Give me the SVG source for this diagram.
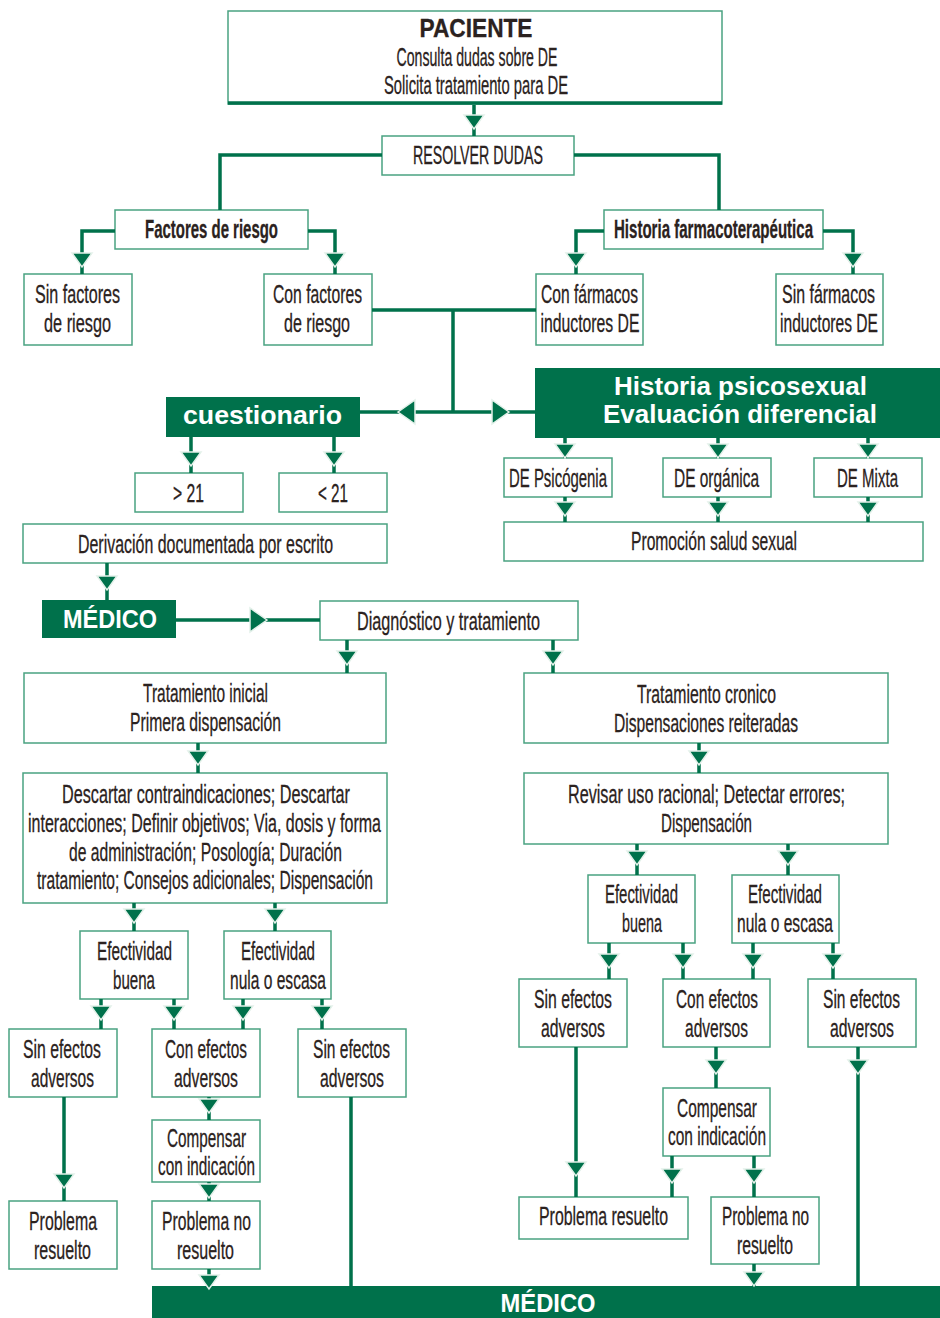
<svg xmlns="http://www.w3.org/2000/svg" xmlns:xlink="http://www.w3.org/1999/xlink" width="940" height="1318" viewBox="0 0 940 1318">
<style>
.box{fill:#fff;stroke:#4aa281;stroke-width:1.5}
.fill{fill:#00714b}
.t{font-family:"Liberation Sans",Arial,sans-serif;font-size:26px;fill:#2b2220;stroke:#2b2220;stroke-width:0.3;text-anchor:middle}
.b{font-weight:bold}
.w{fill:#fff;stroke:none;font-weight:bold}
.ln{stroke:#00714b;stroke-width:3.5;fill:none}
.ah{fill:#00714b;stroke:#e4f1ea;stroke-width:1.5;stroke-linejoin:miter}
</style>
<defs>
<path id="dn" class="ah" d="M-10,-14 H10 L0,0 Z"/>
<path id="lt" class="ah" d="M0,0 L17,-12 V12 Z"/>
<path id="rt" class="ah" d="M0,0 L-17,-12 V12 Z"/>
</defs>
<rect width="940" height="1318" fill="#fff"/>

<g id="paciente">
<rect class="box" x="228" y="11" width="494" height="93"/>
<line x1="228" y1="103" x2="722" y2="103" stroke="#00714b" stroke-width="3.5"/>
<text class="t b" x="476" y="37" font-size="22" textLength="113" lengthAdjust="spacingAndGlyphs">PACIENTE</text>
<text class="t" x="477" y="66" textLength="161" lengthAdjust="spacingAndGlyphs">Consulta dudas sobre DE</text>
<text class="t" x="476" y="94" textLength="184" lengthAdjust="spacingAndGlyphs">Solicita tratamiento para DE</text>
</g>
<g id="resolver">
<rect class="box" x="382" y="136" width="192" height="39"/>
<text class="t" x="478" y="164" textLength="130" lengthAdjust="spacingAndGlyphs">RESOLVER DUDAS</text>
</g>
<g id="factores">
<rect class="box" x="115" y="210" width="193" height="39"/>
<text class="t b" x="211.5" y="238" textLength="133" lengthAdjust="spacingAndGlyphs">Factores de riesgo</text>
</g>
<g id="hfarm">
<rect class="box" x="604" y="210" width="219" height="39"/>
<text class="t b" x="713.5" y="238" textLength="199" lengthAdjust="spacingAndGlyphs">Historia farmacoterapéutica</text>
</g>
<g id="sinfact">
<rect class="box" x="24" y="274" width="108" height="71"/>
<text class="t" x="77.5" y="303" textLength="85" lengthAdjust="spacingAndGlyphs">Sin factores</text>
<text class="t" x="77.5" y="332" textLength="67" lengthAdjust="spacingAndGlyphs">de riesgo</text>
</g>
<g id="confact">
<rect class="box" x="264" y="274" width="108" height="71"/>
<text class="t" x="317.5" y="303" textLength="89" lengthAdjust="spacingAndGlyphs">Con factores</text>
<text class="t" x="317" y="332" textLength="66" lengthAdjust="spacingAndGlyphs">de riesgo</text>
</g>
<g id="confarm">
<rect class="box" x="536" y="274" width="107" height="71"/>
<text class="t" x="589.5" y="303" textLength="97" lengthAdjust="spacingAndGlyphs">Con fármacos</text>
<text class="t" x="590" y="332" textLength="99" lengthAdjust="spacingAndGlyphs">inductores DE</text>
</g>
<g id="sinfarm">
<rect class="box" x="776" y="274" width="107" height="71"/>
<text class="t" x="828.5" y="303" textLength="93" lengthAdjust="spacingAndGlyphs">Sin fármacos</text>
<text class="t" x="829" y="332" textLength="98" lengthAdjust="spacingAndGlyphs">inductores DE</text>
</g>
<g id="cuestionario">
<rect class="fill" x="166" y="397" width="194" height="40"/>
<text class="t w" x="262.5" y="424" font-size="26" textLength="159" lengthAdjust="spacingAndGlyphs">cuestionario</text>
</g>
<g id="hpsico">
<rect class="fill" x="535" y="368" width="405" height="70"/>
<text class="t w" x="740.5" y="395" font-size="24" textLength="253" lengthAdjust="spacingAndGlyphs">Historia psicosexual</text>
<text class="t w" x="740" y="423" font-size="24" textLength="274" lengthAdjust="spacingAndGlyphs">Evaluación diferencial</text>
</g>
<g id="gt21">
<rect class="box" x="135" y="473" width="108" height="39"/>
<text class="t" x="188.5" y="502" textLength="31" lengthAdjust="spacingAndGlyphs">&gt; 21</text>
</g>
<g id="lt21">
<rect class="box" x="279" y="473" width="108" height="39"/>
<text class="t" x="333" y="502" textLength="30" lengthAdjust="spacingAndGlyphs">&lt; 21</text>
</g>
<g id="derivacion">
<rect class="box" x="23" y="524" width="364" height="39"/>
<text class="t" x="205.5" y="553" textLength="255" lengthAdjust="spacingAndGlyphs">Derivación documentada por escrito</text>
</g>
<g id="depsico">
<rect class="box" x="504" y="458" width="108" height="39"/>
<text class="t" x="558" y="487" textLength="98" lengthAdjust="spacingAndGlyphs">DE Psicógenia</text>
</g>
<g id="deorg">
<rect class="box" x="663" y="458" width="108" height="39"/>
<text class="t" x="716.5" y="487" textLength="85" lengthAdjust="spacingAndGlyphs">DE orgánica</text>
</g>
<g id="demixta">
<rect class="box" x="814" y="458" width="108" height="39"/>
<text class="t" x="867.5" y="487" textLength="61" lengthAdjust="spacingAndGlyphs">DE Mixta</text>
</g>
<g id="promocion">
<rect class="box" x="504" y="522" width="419" height="39"/>
<text class="t" x="714" y="550" textLength="166" lengthAdjust="spacingAndGlyphs">Promoción salud sexual</text>
</g>
<g id="medico1">
<rect class="fill" x="42" y="600" width="134" height="38"/>
<text class="t w" x="110" y="628" font-size="23" textLength="94" lengthAdjust="spacingAndGlyphs">MÉDICO</text>
</g>
<g id="diag">
<rect class="box" x="320" y="601" width="258" height="39"/>
<text class="t" x="448.5" y="630" textLength="183" lengthAdjust="spacingAndGlyphs">Diagnóstico y tratamiento</text>
</g>
<g id="tratini">
<rect class="box" x="24" y="673" width="362" height="70"/>
<text class="t" x="205.5" y="702" textLength="125" lengthAdjust="spacingAndGlyphs">Tratamiento inicial</text>
<text class="t" x="205.5" y="731" textLength="151" lengthAdjust="spacingAndGlyphs">Primera dispensación</text>
</g>
<g id="tratcron">
<rect class="box" x="524" y="673" width="364" height="70"/>
<text class="t" x="706.5" y="703" textLength="139" lengthAdjust="spacingAndGlyphs">Tratamiento cronico</text>
<text class="t" x="706" y="732" textLength="184" lengthAdjust="spacingAndGlyphs">Dispensaciones reiteradas</text>
</g>
<g id="descartar">
<rect class="box" x="23" y="773" width="364" height="130"/>
<text class="t" x="206" y="803" textLength="288" lengthAdjust="spacingAndGlyphs">Descartar contraindicaciones; Descartar</text>
<text class="t" x="204.5" y="832" textLength="353" lengthAdjust="spacingAndGlyphs">interacciones; Definir objetivos; Via, dosis y forma</text>
<text class="t" x="205.5" y="861" textLength="273" lengthAdjust="spacingAndGlyphs">de administración; Posología; Duración</text>
<text class="t" x="205" y="889" textLength="336" lengthAdjust="spacingAndGlyphs">tratamiento; Consejos adicionales; Dispensación</text>
</g>
<g id="revisar">
<rect class="box" x="524" y="773" width="364" height="71"/>
<text class="t" x="706.5" y="803" textLength="277" lengthAdjust="spacingAndGlyphs">Revisar uso racional; Detectar errores;</text>
<text class="t" x="706.5" y="832" textLength="91" lengthAdjust="spacingAndGlyphs">Dispensación</text>
</g>
<g id="effbuenaL">
<rect class="box" x="80" y="931" width="108" height="68"/>
<text class="t" x="134.5" y="960" textLength="75" lengthAdjust="spacingAndGlyphs">Efectividad</text>
<text class="t" x="134" y="989" textLength="42" lengthAdjust="spacingAndGlyphs">buena</text>
</g>
<g id="effnulaL">
<rect class="box" x="224" y="931" width="107" height="68"/>
<text class="t" x="278" y="960" textLength="74" lengthAdjust="spacingAndGlyphs">Efectividad</text>
<text class="t" x="278" y="989" textLength="96" lengthAdjust="spacingAndGlyphs">nula o escasa</text>
</g>
<g id="sinefL1">
<rect class="box" x="9" y="1029" width="108" height="68"/>
<text class="t" x="62" y="1058" textLength="78" lengthAdjust="spacingAndGlyphs">Sin efectos</text>
<text class="t" x="62.5" y="1087" textLength="63" lengthAdjust="spacingAndGlyphs">adversos</text>
</g>
<g id="conefL">
<rect class="box" x="152" y="1029" width="108" height="68"/>
<text class="t" x="206" y="1058" textLength="82" lengthAdjust="spacingAndGlyphs">Con efectos</text>
<text class="t" x="206" y="1087" textLength="64" lengthAdjust="spacingAndGlyphs">adversos</text>
</g>
<g id="sinefL3">
<rect class="box" x="298" y="1029" width="108" height="68"/>
<text class="t" x="351.5" y="1058" textLength="77" lengthAdjust="spacingAndGlyphs">Sin efectos</text>
<text class="t" x="352" y="1087" textLength="64" lengthAdjust="spacingAndGlyphs">adversos</text>
</g>
<g id="compL">
<rect class="box" x="152" y="1120" width="108" height="62"/>
<text class="t" x="206.5" y="1147" textLength="79" lengthAdjust="spacingAndGlyphs">Compensar</text>
<text class="t" x="206.5" y="1175" textLength="97" lengthAdjust="spacingAndGlyphs">con indicación</text>
</g>
<g id="probresL">
<rect class="box" x="9" y="1201" width="108" height="68"/>
<text class="t" x="63" y="1230" textLength="68" lengthAdjust="spacingAndGlyphs">Problema</text>
<text class="t" x="62.5" y="1259" textLength="57" lengthAdjust="spacingAndGlyphs">resuelto</text>
</g>
<g id="probnoL">
<rect class="box" x="152" y="1201" width="108" height="68"/>
<text class="t" x="206.5" y="1230" textLength="89" lengthAdjust="spacingAndGlyphs">Problema no</text>
<text class="t" x="205.5" y="1259" textLength="57" lengthAdjust="spacingAndGlyphs">resuelto</text>
</g>
<g id="effbuenaR">
<rect class="box" x="588" y="875" width="107" height="68"/>
<text class="t" x="641.5" y="903" textLength="73" lengthAdjust="spacingAndGlyphs">Efectividad</text>
<text class="t" x="642" y="932" textLength="40" lengthAdjust="spacingAndGlyphs">buena</text>
</g>
<g id="effnulaR">
<rect class="box" x="732" y="875" width="107" height="68"/>
<text class="t" x="785" y="903" textLength="74" lengthAdjust="spacingAndGlyphs">Efectividad</text>
<text class="t" x="785" y="932" textLength="96" lengthAdjust="spacingAndGlyphs">nula o escasa</text>
</g>
<g id="sinefR1">
<rect class="box" x="519" y="979" width="108" height="68"/>
<text class="t" x="573" y="1008" textLength="78" lengthAdjust="spacingAndGlyphs">Sin efectos</text>
<text class="t" x="573" y="1037" textLength="64" lengthAdjust="spacingAndGlyphs">adversos</text>
</g>
<g id="conefR">
<rect class="box" x="663" y="979" width="107" height="68"/>
<text class="t" x="717" y="1008" textLength="82" lengthAdjust="spacingAndGlyphs">Con efectos</text>
<text class="t" x="716.5" y="1037" textLength="63" lengthAdjust="spacingAndGlyphs">adversos</text>
</g>
<g id="sinefR3">
<rect class="box" x="808" y="979" width="108" height="68"/>
<text class="t" x="861.5" y="1008" textLength="77" lengthAdjust="spacingAndGlyphs">Sin efectos</text>
<text class="t" x="862" y="1037" textLength="64" lengthAdjust="spacingAndGlyphs">adversos</text>
</g>
<g id="compR">
<rect class="box" x="663" y="1088" width="107" height="68"/>
<text class="t" x="717" y="1117" textLength="80" lengthAdjust="spacingAndGlyphs">Compensar</text>
<text class="t" x="717" y="1145" textLength="98" lengthAdjust="spacingAndGlyphs">con indicación</text>
</g>
<g id="probresR">
<rect class="box" x="519" y="1197" width="169" height="42"/>
<text class="t" x="603.5" y="1225" textLength="129" lengthAdjust="spacingAndGlyphs">Problema resuelto</text>
</g>
<g id="probnoR">
<rect class="box" x="711" y="1197" width="108" height="67"/>
<text class="t" x="765.5" y="1225" textLength="87" lengthAdjust="spacingAndGlyphs">Problema no</text>
<text class="t" x="765" y="1254" textLength="56" lengthAdjust="spacingAndGlyphs">resuelto</text>
</g>
<g id="medico2">
<rect class="fill" x="152" y="1286" width="788" height="32"/>
<text class="t w" x="548" y="1312" font-size="24" textLength="95" lengthAdjust="spacingAndGlyphs">MÉDICO</text>
</g>

<g id="connectors">
<path class="ln" d="M474,105 V136 M382,155 H220 V210 M574,155 H719 V210 M115,231 H82 V274 M308,231 H335 V274 M604,231 H576 V274 M823,231 H853 V274 M372,310 H536 M453,310 V412 M360,412 H535 M191,437 V473 M334,437 V473 M565,438 V458 M718,438 V458 M868,438 V458 M565,497 V522 M718,497 V522 M868,497 V522 M107,563 V600 M176,620 H320 M347,640 V673 M553,640 V673 M198,743 V773 M699,743 V773 M134,903 V931 M275,903 V931 M637,844 V875 M788,844 V875 M101,999 V1029 M174,999 V1029 M243,999 V1029 M322,999 V1029 M609,943 V979 M683,943 V979 M753,943 V979 M833,943 V979 M209,1097 V1120 M64,1097 V1201 M209,1182 V1201 M209,1269 V1286 M351,1097 V1286 M576,1047 V1197 M716,1047 V1088 M858,1047 V1286 M672,1156 V1197 M754,1156 V1197 M754,1264 V1286"/>
<use xlink:href="#dn" x="474" y="129"/>
<use xlink:href="#dn" x="82" y="267"/>
<use xlink:href="#dn" x="335" y="267"/>
<use xlink:href="#dn" x="576" y="267"/>
<use xlink:href="#dn" x="853" y="267"/>
<use xlink:href="#lt" x="398" y="412"/>
<use xlink:href="#rt" x="509" y="412"/>
<use xlink:href="#dn" x="191" y="466"/>
<use xlink:href="#dn" x="334" y="466"/>
<use xlink:href="#dn" x="565" y="458"/>
<use xlink:href="#dn" x="718" y="458"/>
<use xlink:href="#dn" x="868" y="458"/>
<use xlink:href="#dn" x="565" y="516"/>
<use xlink:href="#dn" x="718" y="516"/>
<use xlink:href="#dn" x="868" y="516"/>
<use xlink:href="#dn" x="107" y="590"/>
<use xlink:href="#rt" x="267" y="620"/>
<use xlink:href="#dn" x="347" y="665"/>
<use xlink:href="#dn" x="553" y="665"/>
<use xlink:href="#dn" x="198" y="765"/>
<use xlink:href="#dn" x="699" y="765"/>
<use xlink:href="#dn" x="134" y="923"/>
<use xlink:href="#dn" x="275" y="923"/>
<use xlink:href="#dn" x="637" y="865"/>
<use xlink:href="#dn" x="788" y="865"/>
<use xlink:href="#dn" x="101" y="1020"/>
<use xlink:href="#dn" x="174" y="1020"/>
<use xlink:href="#dn" x="243" y="1020"/>
<use xlink:href="#dn" x="322" y="1020"/>
<use xlink:href="#dn" x="609" y="968"/>
<use xlink:href="#dn" x="683" y="968"/>
<use xlink:href="#dn" x="753" y="968"/>
<use xlink:href="#dn" x="833" y="968"/>
<use xlink:href="#dn" x="209" y="1113"/>
<use xlink:href="#dn" x="64" y="1188"/>
<use xlink:href="#dn" x="209" y="1198"/>
<use xlink:href="#dn" x="209" y="1289"/>
<use xlink:href="#dn" x="716" y="1074"/>
<use xlink:href="#dn" x="858" y="1074"/>
<use xlink:href="#dn" x="576" y="1176"/>
<use xlink:href="#dn" x="672" y="1183"/>
<use xlink:href="#dn" x="754" y="1183"/>
<use xlink:href="#dn" x="754" y="1286"/>
</g>
</svg>
